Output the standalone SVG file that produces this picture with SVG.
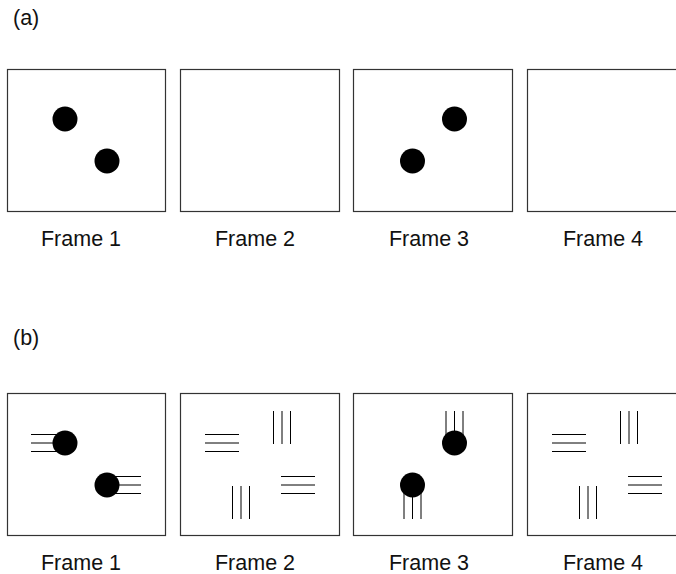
<svg xmlns="http://www.w3.org/2000/svg" width="676" height="574" viewBox="0 0 676 574">
<style>
.fr{fill:#fff;stroke:#333;stroke-width:1.2}
.ball{fill:#000}
.ln{stroke:#000;stroke-width:1;fill:none}
.lbl{font-family:"Liberation Sans",Arial,sans-serif;font-size:21.5px;fill:#111;text-anchor:middle}
.tag{font-family:"Liberation Sans",Arial,sans-serif;font-size:21.5px;fill:#111}
</style>
<rect width="676" height="574" fill="#fff"/>
<text class="tag" x="13" y="24.5">(a)</text>
<text class="tag" x="13" y="344.5">(b)</text>

<g id="a-frame1">
<rect class="fr" x="7.5" y="69.5" width="158" height="142"/>
<circle class="ball" cx="65" cy="119" r="12.5"/>
<circle class="ball" cx="107" cy="161" r="12.5"/>
<text class="lbl" x="81" y="246">Frame 1</text>
</g>
<g id="a-frame2">
<rect class="fr" x="180.5" y="69.5" width="159" height="142"/>
<text class="lbl" x="255" y="246">Frame 2</text>
</g>
<g id="a-frame3">
<rect class="fr" x="353.5" y="69.5" width="159" height="142"/>
<circle class="ball" cx="454.5" cy="119" r="12.5"/>
<circle class="ball" cx="412.5" cy="161" r="12.5"/>
<text class="lbl" x="429" y="246">Frame 3</text>
</g>
<g id="a-frame4">
<rect class="fr" x="527.5" y="69.5" width="159" height="142"/>
<text class="lbl" x="603" y="246">Frame 4</text>
</g>

<g id="b-frame1">
<rect class="fr" x="7.5" y="393.5" width="158" height="142"/>
<path class="ln" d="M31 434.5H65M31 443H65M31 451.5H65"/>
<path class="ln" d="M107 476.5H141M107 485H141M107 493.5H141"/>
<circle class="ball" cx="65" cy="443" r="12.5"/>
<circle class="ball" cx="107" cy="485" r="12.5"/>
<text class="lbl" x="81" y="569.5">Frame 1</text>
</g>
<g id="b-frame2">
<rect class="fr" x="180.5" y="393.5" width="159" height="142"/>
<path class="ln" d="M205 434.5H239M205 443H239M205 451.5H239"/>
<path class="ln" d="M273.5 411V444M282 411V444M290.5 411V444"/>
<path class="ln" d="M281 476.5H315M281 485H315M281 493.5H315"/>
<path class="ln" d="M232.5 486V519M241 486V519M249.5 486V519"/>
<text class="lbl" x="255" y="569.5">Frame 2</text>
</g>
<g id="b-frame3">
<rect class="fr" x="353.5" y="393.5" width="159" height="142"/>
<path class="ln" d="M446 411V443M454.5 411V443M463 411V443"/>
<path class="ln" d="M404 485V519M412.5 485V519M421 485V519"/>
<circle class="ball" cx="454.5" cy="443" r="12.5"/>
<circle class="ball" cx="412.5" cy="485" r="12.5"/>
<text class="lbl" x="429" y="569.5">Frame 3</text>
</g>
<g id="b-frame4">
<rect class="fr" x="527.5" y="393.5" width="159" height="142"/>
<path class="ln" d="M552 434.5H586M552 443H586M552 451.5H586"/>
<path class="ln" d="M620.5 411V444M629 411V444M637.5 411V444"/>
<path class="ln" d="M628 476.5H662M628 485H662M628 493.5H662"/>
<path class="ln" d="M579.5 486V519M588 486V519M596.5 486V519"/>
<text class="lbl" x="603" y="569.5">Frame 4</text>
</g>
<g id="connectors"/>
</svg>
